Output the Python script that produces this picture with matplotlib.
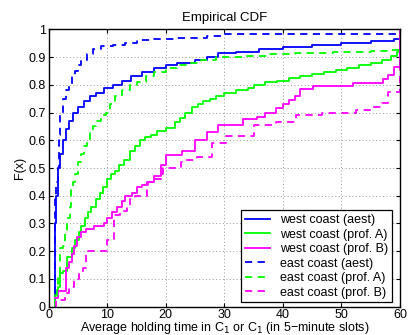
import matplotlib
matplotlib.use("Agg")
import matplotlib.pyplot as plt

plt.rcParams["font.family"] = ["Liberation Sans", "DejaVu Sans"]

# ---------------- data (step breakpoints) ----------------
west_aest_x = [1, 1.05, 1.3, 1.6, 2.0, 2.5, 3, 3.5, 4.2, 5, 6, 7, 8, 9.5, 11, 12.5, 14, 16, 18, 20,
               22, 25, 27, 29, 32, 36, 40, 45, 50, 55, 59, 60]
west_aest_y = [0, 0.3, 0.4, 0.5, 0.55, 0.6, 0.64, 0.67, 0.7, 0.72, 0.74, 0.76, 0.77, 0.79, 0.8, 0.815,
               0.83, 0.845, 0.86, 0.87, 0.88, 0.89, 0.9, 0.915, 0.92, 0.93, 0.935, 0.945, 0.95, 0.958, 0.965, 1.0]

east_aest_x = [1, 1.05, 1.3, 1.6, 1.8, 2.0, 2.5, 3, 3.5, 4, 4.5, 5, 5.5, 6.5, 7.5, 9, 11, 13, 15, 18,
               22, 27, 30, 60]
east_aest_y = [0, 0.4, 0.45, 0.5, 0.62, 0.69, 0.75, 0.78, 0.8, 0.83, 0.85, 0.87, 0.89, 0.91, 0.93, 0.94,
               0.945, 0.95, 0.96, 0.965, 0.97, 0.975, 0.982, 1.0]

west_a_x = [1, 1.05, 1.6, 2, 2.5, 3.2, 4, 4.5, 5.1, 5.6, 6.2, 6.8, 7.3, 8, 8.7, 9.3, 10, 10.7, 11.3, 12,
            12.9, 13.9, 14.7, 15.6, 16.5, 17.5, 18.5, 20, 21.5, 22.5, 23.3, 24.5, 25.5, 26.4, 27.5,
            28.5, 30, 32, 34, 35, 37, 39, 41, 43, 45, 47, 49, 51, 53, 55, 57, 58.5, 59.5, 60]
west_a_y = [0, 0.05, 0.07, 0.12, 0.13, 0.18, 0.21, 0.24, 0.27, 0.29, 0.32, 0.34, 0.36, 0.39, 0.41, 0.43,
            0.46, 0.48, 0.49, 0.51, 0.53, 0.56, 0.58, 0.6, 0.61, 0.62, 0.635, 0.645, 0.665, 0.68, 0.7,
            0.72, 0.73, 0.74, 0.75, 0.76, 0.77, 0.78, 0.79, 0.8, 0.81, 0.815, 0.825, 0.83, 0.84, 0.845,
            0.855, 0.86, 0.87, 0.88, 0.89, 0.905, 0.92, 1.0]

east_a_x = [1, 1.1, 1.4, 1.6, 1.9, 2.0, 2.5, 2.8, 3.1, 3.6, 3.8, 4.1, 4.5, 5, 5.5, 6, 6.6, 7, 7.5, 8, 9,
            9.8, 10.5, 11.3, 12.5, 13.9, 15, 16.7, 18, 20, 22, 23.6, 26, 28.5, 33, 37.3, 42, 48.6, 55,
            58, 60]
east_a_y = [0, 0.04, 0.08, 0.11, 0.13, 0.21, 0.22, 0.27, 0.32, 0.36, 0.42, 0.45, 0.48, 0.52, 0.55, 0.58,
            0.6, 0.63, 0.65, 0.67, 0.69, 0.7, 0.73, 0.76, 0.78, 0.8, 0.81, 0.83, 0.845, 0.86, 0.87, 0.88,
            0.89, 0.9, 0.905, 0.91, 0.915, 0.918, 0.922, 0.926, 1.0]

west_b_x = [1, 1.6, 3.0, 3.4, 4.0, 4.3, 4.9, 5.5, 6.4, 7.8, 9.5, 10, 10.9, 11.7, 12.6, 13, 14.2, 15,
            15.9, 17, 18, 19.2, 20, 22.7, 25, 27, 29, 33.2, 35.5, 36.9, 38.9, 40.1, 41, 42, 43, 45.2,
            52, 57.1, 58, 58.9, 60]
west_b_y = [0.03, 0.055, 0.14, 0.16, 0.19, 0.22, 0.25, 0.27, 0.28, 0.29, 0.3, 0.32, 0.34, 0.36, 0.38,
            0.4, 0.41, 0.43, 0.44, 0.45, 0.47, 0.51, 0.547, 0.56, 0.6, 0.63, 0.655, 0.675, 0.685, 0.7,
            0.715, 0.73, 0.745, 0.76, 0.785, 0.795, 0.805, 0.82, 0.835, 0.865, 1.0]

east_b_x = [1, 1.3, 2.8, 3.5, 4.3, 5.1, 5.8, 6.4, 10, 11.2, 12.2, 13.3, 13.9, 14.8, 16.8, 18, 19.2,
            19.5, 22.6, 23.5, 25.3, 27.9, 30.2, 35, 38.9, 42.2, 46.7, 52.4, 55, 57, 58, 60]
east_b_y = [0.0, 0.025, 0.05, 0.07, 0.1, 0.12, 0.14, 0.2, 0.24, 0.33, 0.345, 0.36, 0.39, 0.4, 0.45,
            0.46, 0.48, 0.5, 0.52, 0.53, 0.54, 0.59, 0.615, 0.655, 0.667, 0.69, 0.7, 0.71, 0.72, 0.735,
            0.775, 1.0]

series = [
    ("west coast (aest)", west_aest_x, west_aest_y, "#0000ff", "-"),
    ("west coast (prof. A)", west_a_x, west_a_y, "#00ff00", "-"),
    ("west coast (prof. B)", west_b_x, west_b_y, "#ff00ff", "-"),
    ("east coast (aest)", east_aest_x, east_aest_y, "#0000ff", (0, (4, 3))),
    ("east coast (prof. A)", east_a_x, east_a_y, "#00ff00", (0, (4, 3))),
    ("east coast (prof. B)", east_b_x, east_b_y, "#ff00ff", (0, (4, 3))),
]

# ---------------- figure ----------------
fig = plt.figure(figsize=(4.09, 3.35), dpi=100)
ax = fig.add_axes([0.119, 0.0845, 0.859, 0.828])

for label, xs, ys, color, ls in series:
    ax.step(xs, ys, where="post", color=color, linestyle=ls, linewidth=1.3, label=label)

ax.set_xlim(0, 60)
ax.set_ylim(0, 1)
ax.set_xticks(range(0, 61, 10))
ax.set_yticks([i / 10 for i in range(11)])
ax.set_yticklabels(["0", "0.1", "0.2", "0.3", "0.4", "0.5", "0.6", "0.7", "0.8", "0.9", "1"])
ax.tick_params(direction="in", top=True, right=True, labelsize=9, length=3, pad=2)
ax.grid(True, linestyle=(0, (1, 2.5)), color="#999999", linewidth=0.7)
for s in ax.spines.values():
    s.set_linewidth(1.0)

ax.set_title("Empirical CDF", fontsize=9.5, pad=6)
ax.set_xlabel("Average holding time in C$_1$ or C$_1$ (in 5\u2212minute slots)", fontsize=9, labelpad=-1)
ax.set_ylabel("F(x)", fontsize=9, labelpad=2)

# MATLAB-like legend box, lower right
leg = ax.legend(loc="lower right", bbox_to_anchor=(0.99, 0.0), fontsize=9, frameon=True,
                fancybox=False, framealpha=1, edgecolor="black", borderaxespad=0.35,
                labelspacing=0.2, handlelength=2.0, handletextpad=0.8, borderpad=0.3)
leg.get_frame().set_linewidth(0.9)

fig.savefig("out.png", dpi=100)
